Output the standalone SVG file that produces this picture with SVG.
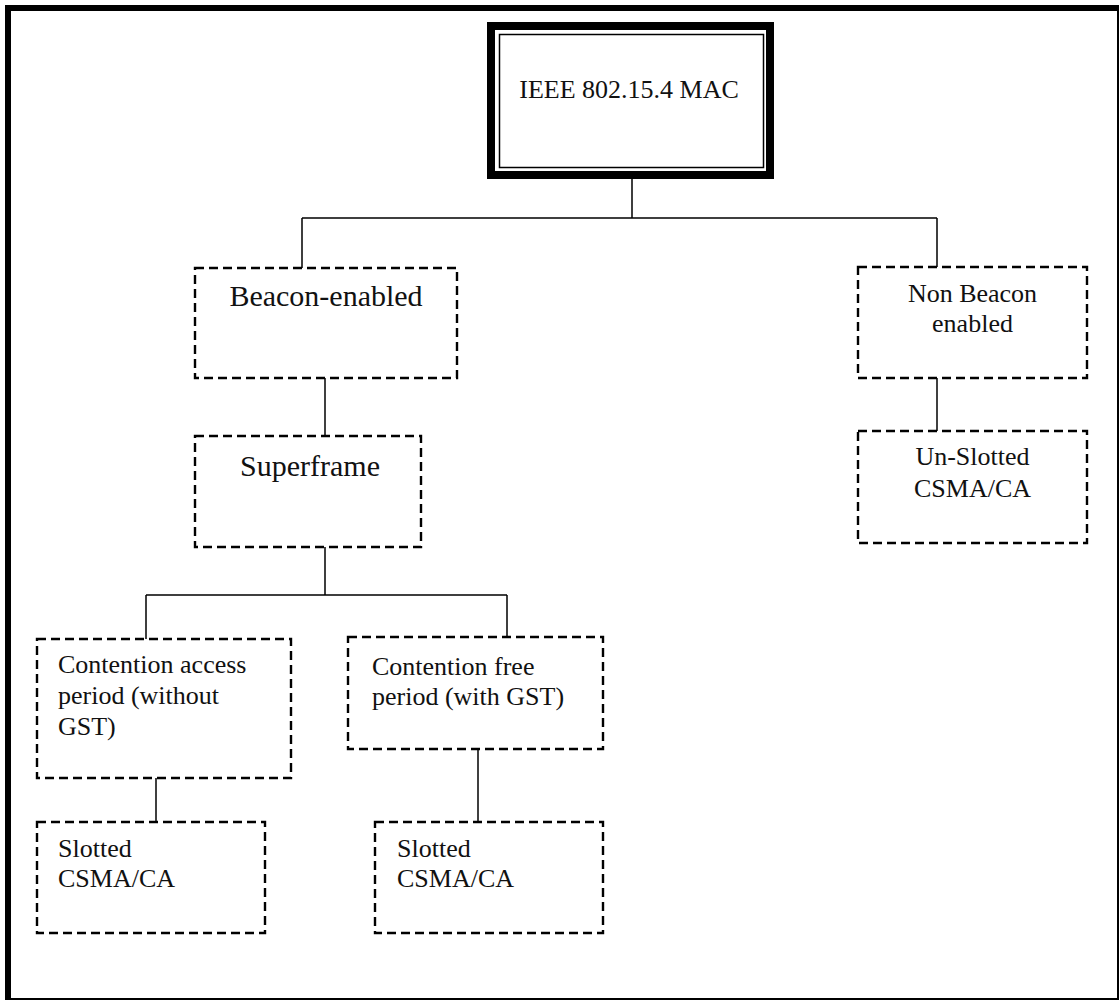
<svg xmlns="http://www.w3.org/2000/svg" width="1120" height="1001" viewBox="0 0 1120 1001">
<style>
.box{fill:none;stroke:#000;stroke-width:2.4;stroke-dasharray:9 5}
.conn{fill:none;stroke:#000;stroke-width:1.5}
text{font-family:"Liberation Serif","Times New Roman",serif;fill:#111}
.s{font-size:26px}
.l{font-size:30px}
</style>
<rect width="1120" height="1001" fill="#fff"/>
<g id="frame">
<line x1="5" y1="8" x2="1119" y2="8" stroke="#000" stroke-width="6"/>
<line x1="8" y1="5" x2="8" y2="1000" stroke="#000" stroke-width="6"/>
<line x1="1118" y1="5" x2="1118" y2="1000" stroke="#000" stroke-width="2"/>
<line x1="5" y1="999" x2="1119" y2="999" stroke="#000" stroke-width="2"/>
</g>
<g id="connectors">
<path class="conn" d="M632 179V218M302 218H937M302 218V268M937 218V267"/>
<path class="conn" d="M937 378V431"/>
<path class="conn" d="M325 378V436"/>
<path class="conn" d="M325 547V595M146 595H507M146 595V639M507 595V637"/>
<path class="conn" d="M156 778V822"/>
<path class="conn" d="M478 749V822"/>
</g>
<g id="mac">
<rect x="491" y="26" width="279" height="149" fill="#fff" stroke="#000" stroke-width="8"/>
<rect x="499.5" y="34.5" width="264" height="133" fill="none" stroke="#000" stroke-width="1.5"/>
<text class="s" x="629" y="98" text-anchor="middle">IEEE 802.15.4 MAC</text>
</g>
<g id="beacon">
<rect class="box" x="195" y="268" width="262" height="110"/>
<text class="l" x="326" y="306" text-anchor="middle">Beacon-enabled</text>
</g>
<g id="nonbeacon">
<rect class="box" x="858" y="267" width="229" height="111"/>
<text class="s" x="972.5" y="302" text-anchor="middle">Non Beacon</text>
<text class="s" x="972.5" y="332" text-anchor="middle">enabled</text>
</g>
<g id="unslotted">
<rect class="box" x="858" y="431" width="229" height="112"/>
<text class="s" x="972.5" y="465" text-anchor="middle">Un-Slotted</text>
<text class="s" x="972.5" y="497" text-anchor="middle">CSMA/CA</text>
</g>
<g id="superframe">
<rect class="box" x="195" y="436" width="226" height="111"/>
<text class="l" x="310" y="476" text-anchor="middle">Superframe</text>
</g>
<g id="cap">
<rect class="box" x="37" y="639" width="254" height="139"/>
<text class="s" x="58" y="673">Contention access</text>
<text class="s" x="58" y="704">period (without</text>
<text class="s" x="58" y="735">GST)</text>
</g>
<g id="cfp">
<rect class="box" x="348" y="637" width="255" height="112"/>
<text class="s" x="372" y="675">Contention free</text>
<text class="s" x="372" y="705">period (with GST)</text>
</g>
<g id="slotted1">
<rect class="box" x="37" y="822" width="228" height="111"/>
<text class="s" x="58" y="857">Slotted</text>
<text class="s" x="58" y="887">CSMA/CA</text>
</g>
<g id="slotted2">
<rect class="box" x="375" y="822" width="228" height="111"/>
<text class="s" x="397" y="857">Slotted</text>
<text class="s" x="397" y="887">CSMA/CA</text>
</g>
</svg>
